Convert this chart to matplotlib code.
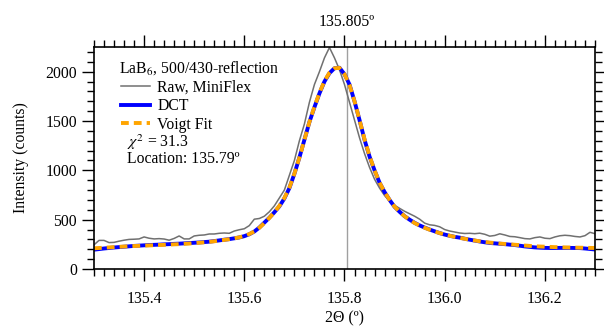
import matplotlib
matplotlib.use('Agg')
import matplotlib.pyplot as plt
from matplotlib.ticker import MultipleLocator

plt.rcParams['font.family'] = ['Liberation Serif', 'DejaVu Serif']
plt.rcParams['mathtext.fontset'] = 'stix'

# 2-theta grid (deg), step 0.01
two_theta = [
    135.30, 135.31, 135.32, 135.33, 135.34, 135.35, 135.36, 135.37, 135.38, 135.39,
    135.40, 135.41, 135.42, 135.43, 135.44, 135.45, 135.46, 135.47, 135.48, 135.49,
    135.50, 135.51, 135.52, 135.53, 135.54, 135.55, 135.56, 135.57, 135.58, 135.59,
    135.60, 135.61, 135.62, 135.63, 135.64, 135.65, 135.66, 135.67, 135.68, 135.69,
    135.70, 135.71, 135.72, 135.73, 135.74, 135.75, 135.76, 135.77, 135.78, 135.79,
    135.80, 135.81, 135.82, 135.83, 135.84, 135.85, 135.86, 135.87, 135.88, 135.89,
    135.90, 135.91, 135.92, 135.93, 135.94, 135.95, 135.96, 135.97, 135.98, 135.99,
    136.00, 136.01, 136.02, 136.03, 136.04, 136.05, 136.06, 136.07, 136.08, 136.09,
    136.10, 136.11, 136.12, 136.13, 136.14, 136.15, 136.16, 136.17, 136.18, 136.19,
    136.20, 136.21, 136.22, 136.23, 136.24, 136.25, 136.26, 136.27, 136.28, 136.29,
    136.30,
]

raw_counts = [
    245, 290, 290, 268, 270, 282, 292, 300, 302, 305,
    325, 312, 305, 308, 304, 292, 310, 335, 305, 305,
    335, 342, 345, 355, 355, 362, 365, 362, 385, 398,
    408, 440, 505, 512, 535, 580, 640, 720, 800, 950,
    1100, 1300, 1470, 1690, 1870, 2000, 2140, 2245, 2140, 2020,
    1870, 1690, 1510, 1330, 1170, 1030, 910, 820, 745, 690,
    645, 615, 585, 560, 535, 505, 465, 448, 442, 428,
    400, 385, 375, 365, 360, 362, 358, 363, 352, 333,
    340, 357, 345, 330, 327, 318, 308, 305, 318, 325,
    312, 308, 325, 337, 342, 338, 330, 325, 338, 372,
    358,
]

dct_counts = [
    196, 202, 208, 213, 218, 222, 226, 230, 234, 237,
    240, 243, 245, 247, 250, 252, 255, 257, 260, 263,
    266, 269, 273, 277, 283, 290, 297, 303, 311, 320,
    333, 352, 380, 420, 470, 520, 575, 635, 715, 820,
    965, 1130, 1310, 1490, 1640, 1780, 1900, 1985, 2035, 2040,
    1975, 1870, 1700, 1510, 1310, 1140, 1000, 875, 780, 700,
    630, 580, 535, 500, 468, 442, 420, 400, 382, 364,
    349, 337, 326, 318, 307, 297, 288, 279, 271, 264,
    260, 256, 252, 247, 243, 236, 229, 224, 219, 216,
    214, 213, 213, 214, 214, 214, 213, 212, 208, 203,
    198,
]

voigt_counts = [
    210, 213, 216, 219, 222, 225, 228, 231, 233, 235,
    237, 239, 241, 243, 245, 247, 250, 252, 255, 258,
    262, 266, 270, 275, 281, 288, 295, 302, 311, 321,
    335, 354, 381, 418, 465, 518, 575, 640, 720, 825,
    965, 1130, 1310, 1490, 1645, 1785, 1905, 1990, 2035, 2038,
    1975, 1865, 1700, 1510, 1315, 1145, 1000, 875, 780, 700,
    632, 580, 535, 498, 466, 440, 418, 398, 380, 364,
    350, 337, 326, 316, 306, 297, 289, 281, 274, 268,
    263, 258, 254, 250, 246, 242, 238, 234, 231, 228,
    226, 224, 222, 221, 219, 218, 217, 216, 215, 214,
    213,
]

peak_pos = 135.805
fit_location = 135.79
chi2 = 31.3

FS = 11.3

fig = plt.figure(figsize=(6.04, 3.26), dpi=100)
ax = fig.add_axes([0.1556, 0.1748, 0.8295, 0.681])

ax.axvline(peak_pos, color='#a0a0a0', lw=1.0)
l_raw, = ax.plot(two_theta, raw_counts, color='#707070', lw=1.1)
l_dct, = ax.plot(two_theta, dct_counts, color='#0000ff', lw=2.8)
l_fit, = ax.plot(two_theta, voigt_counts, color='#ffa500', lw=2.8,
                 dashes=(2.0, 1.3))

ax.set_xlim(135.3, 136.3)
ax.set_ylim(0, 2250)
ax.xaxis.set_major_locator(MultipleLocator(0.2))
ax.xaxis.set_minor_locator(MultipleLocator(0.02))
ax.yaxis.set_major_locator(MultipleLocator(500))
ax.yaxis.set_minor_locator(MultipleLocator(100))
ax.tick_params(which='both', direction='out', top=True, right=True,
               labelsize=FS, width=1.0)
ax.tick_params(which='major', length=8.6)
ax.tick_params(which='minor', length=5)
ax.tick_params(axis='x', pad=7)
ax.tick_params(axis='y', pad=3.5)
for s in ax.spines.values():
    s.set_linewidth(1.2)

ax.set_xlabel('2\u0398 (\u00ba)', fontsize=FS, labelpad=2.5)
ax.set_ylabel('Intensity (counts)', fontsize=FS, labelpad=12)

ax.annotate('%.3f\u00ba' % peak_pos, xy=(peak_pos, 1.0),
            xycoords=ax.get_xaxis_transform(), xytext=(0, 18),
            textcoords='offset points', ha='center', va='center', fontsize=FS)

ax.text(0.05, 0.905, 'LaB$_6$, 500/430-reflection', transform=ax.transAxes,
        ha='left', va='center', fontsize=FS)
ax.legend([l_raw, l_dct, l_fit], ['Raw, MiniFlex', 'DCT', 'Voigt Fit'],
          loc='upper left', bbox_to_anchor=(0.054, 0.852), frameon=False,
          borderpad=0, borderaxespad=0, handlelength=1.85, handletextpad=0.45,
          labelspacing=0.15, fontsize=FS)
ax.text(0.066, 0.572, '$\\chi^2$ = %.1f' % chi2, transform=ax.transAxes,
        ha='left', va='center', fontsize=FS)
ax.text(0.066, 0.494, 'Location: %.2f\u00ba' % fit_location, transform=ax.transAxes,
        ha='left', va='center', fontsize=FS)

fig.savefig('out.png', dpi=100)
